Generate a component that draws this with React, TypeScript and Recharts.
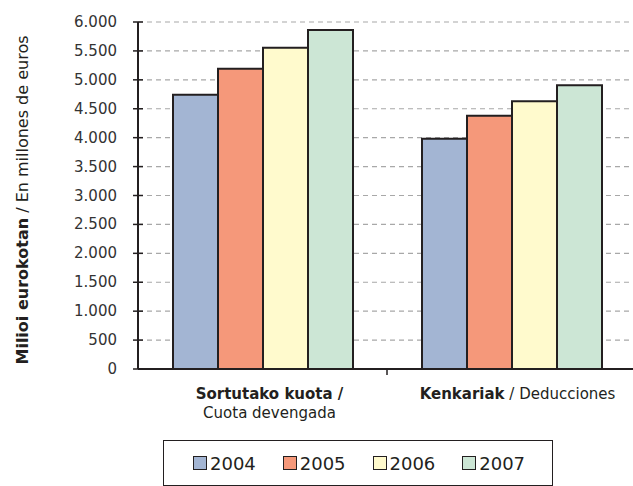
import React from "react";
import {
  BarChart,
  Bar,
  XAxis,
  YAxis,
  CartesianGrid,
  Legend,
  Label,
} from "recharts";

const categories = ["Sortutako kuota", "Kenkariak"];
const years = ["2004", "2005", "2006", "2007"];
const values2004 = [4740, 3980];
const values2005 = [5190, 4380];
const values2006 = [5555, 4630];
const values2007 = [5860, 4905];
const yTicks = [0, 500, 1000, 1500, 2000, 2500, 3000, 3500, 4000, 4500, 5000, 5500, 6000];

const seriesValues = [values2004, values2005, values2006, values2007];
const COLORS = ["#a3b5d3", "#f5987a", "#fffacd", "#cce6d5"];
const DARK = "#231f20";
const FONT = "'DejaVu Sans', sans-serif";
const AXIS_X = 138;

const data = categories.map((name, i) => {
  const row: any = { name };
  years.forEach((y, j) => {
    row[y] = seriesValues[j][i];
  });
  return row;
});

const formatTick = (v: number) => v.toLocaleString("de-DE");

const YTick = ({ x, y, payload }: any) => (
  <g>
    <line x1={AXIS_X - 5} x2={AXIS_X + 5} y1={y} y2={y} stroke={DARK} strokeWidth={1.5} />
    <text x={x} y={y} dy={5} textAnchor="end" fontFamily={FONT} fontSize={15} fill="#333">
      {formatTick(payload.value)}
    </text>
  </g>
);

const XTick = ({ x, y, payload, index }: any) => {
  const half = payload.offset ?? 124.5;
  return (
    <g>
      {index > 0 && (
        <line x1={x - half} x2={x - half} y1={y - 8} y2={y - 2} stroke={DARK} strokeWidth={1.5} />
      )}
      {index === 0 ? (
        <text x={x + 7} y={y + 22} textAnchor="middle" fontFamily={FONT} fontSize={15} fill="#231f20">
          <tspan x={x + 7} fontWeight="bold">Sortutako kuota /</tspan>
          <tspan x={x + 7} dy={19}>Cuota devengada</tspan>
        </text>
      ) : (
        <text x={x + 6} y={y + 22} textAnchor="middle" fontFamily={FONT} fontSize={15} fill="#231f20">
          <tspan fontWeight="bold">Kenkariak</tspan>
          <tspan> / Deducciones</tspan>
        </text>
      )}
    </g>
  );
};

const YLabel = () => (
  <text
    x={22}
    y={200}
    transform="rotate(-90 22 200)"
    textAnchor="middle"
    dominantBaseline="central"
    fontFamily={FONT}
    fontSize={16}
    fill="#231f20"
  >
    <tspan fontWeight="bold">Milioi eurokotan</tspan>
    <tspan> / En millones de euros</tspan>
  </text>
);

const LegendBox = () => (
  <div
    style={{
      boxSizing: "border-box",
      width: 390,
      height: 46,
      border: `1.5px solid ${DARK}`,
      display: "flex",
      alignItems: "center",
      paddingLeft: 29,
      fontFamily: FONT,
      fontSize: 18,
      color: "#231f20",
    }}
  >
    {years.map((y, i) => (
      <div key={y} style={{ display: "flex", alignItems: "center", width: 90 }}>
        <span
          style={{
            display: "inline-block",
            boxSizing: "border-box",
            width: 14,
            height: 14,
            background: COLORS[i],
            border: `1.5px solid ${DARK}`,
            marginRight: 3,
          }}
        />
        <span>{y}</span>
      </div>
    ))}
  </div>
);

export default function App() {
  return (
    <div style={{ position: "absolute", left: 0, top: 0, width: 633, height: 486, overflow: "hidden", background: "#fff" }}>
      <BarChart
        width={636}
        height={486}
        data={data}
        margin={{ top: 22, right: 0, bottom: 0, left: 0 }}
        barGap={0}
        barSize={45}
      >
        <CartesianGrid vertical={false} stroke="#a8a8a8" strokeDasharray="5 4" strokeWidth={1.2} />
        <XAxis
          dataKey="name"
          height={117}
          axisLine={{ stroke: DARK, strokeWidth: 2 }}
          tickLine={false}
          tick={<XTick />}
          interval={0}
        />
        <YAxis
          width={AXIS_X}
          domain={[0, 6000]}
          ticks={yTicks}
          interval={0}
          tickSize={5}
          tickMargin={16}
          axisLine={{ stroke: DARK, strokeWidth: 2 }}
          tickLine={false}
          tick={<YTick />}
        >
          <Label content={<YLabel />} />
        </YAxis>
        {years.map((y, i) => (
          <Bar
            key={y}
            dataKey={y}
            fill={COLORS[i]}
            stroke={DARK}
            strokeWidth={2}
            isAnimationActive={false}
          />
        ))}
        <Legend
          layout="vertical"
          align="center"
          verticalAlign="middle"
          wrapperStyle={{ left: 163, top: 440, width: 390, height: 46 }}
          content={<LegendBox />}
        />
      </BarChart>
    </div>
  );
}
